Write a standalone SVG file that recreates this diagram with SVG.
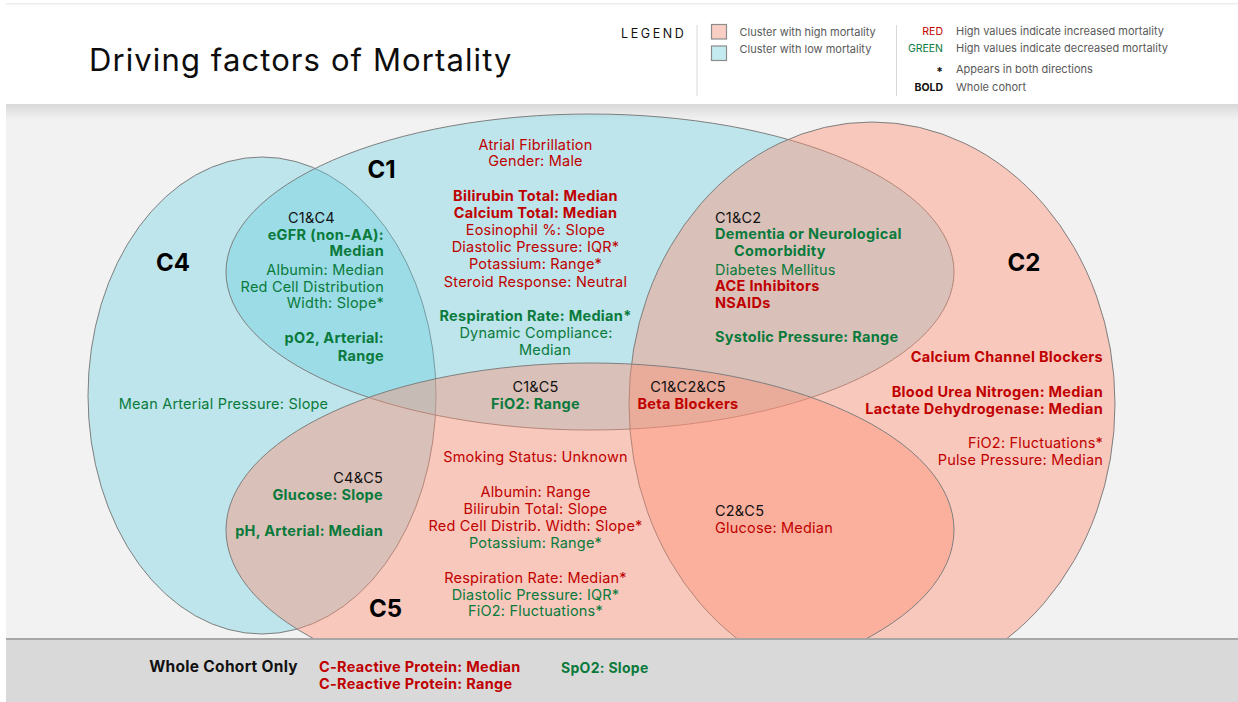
<svg xmlns="http://www.w3.org/2000/svg" width="1238" height="702" viewBox="0 0 1238 702">
<defs>
<linearGradient id="shadow" x1="0" y1="0" x2="0" y2="1">
<stop offset="0" stop-color="#d9d9d9"/>
<stop offset="1" stop-color="#f2f2f2"/>
</linearGradient>
<style>
text{font-family:Inter,"Open Sans",sans-serif;font-size:14.5px;letter-spacing:0.2px}
.b{font-weight:700;letter-spacing:0.3px}
.r{fill:#c00000}
.g{fill:#0a7a3c}
.k{fill:#111}
.m{text-anchor:middle}
.e{text-anchor:end}
.lab{font-size:24px;font-weight:700;fill:#000;text-anchor:middle;letter-spacing:0}
.blue{fill:#63cfdf;fill-opacity:0.37;stroke:#7f7f7f;stroke-width:1}
.pink{fill:#fe9074;fill-opacity:0.43;stroke:#7f7f7f;stroke-width:1}
.lg{font-size:11px;fill:#595959;letter-spacing:0}
.lk{font-size:10.5px;text-anchor:end;letter-spacing:0}
</style>
</defs>
<rect x="0" y="0" width="1238" height="702" fill="#ffffff"/>
<rect x="6" y="3" width="1232" height="1.5" fill="#ececec"/>
<rect x="6" y="104" width="1232" height="534" fill="#f2f2f2"/>
<rect x="6" y="104" width="1232" height="16" fill="url(#shadow)"/>

<g id="title">
<text x="89" y="71" style="font-size:31px;fill:#0d0d0d;letter-spacing:1.1px">Driving factors of Mortality</text>
</g>

<g id="legend">
<text x="621" y="38.3" style="font-size:12.5px;letter-spacing:2.6px;fill:#111">LEGEND</text>
<line x1="697" y1="25" x2="697" y2="96" stroke="#d9d9d9" stroke-width="1"/>
<line x1="896.5" y1="25" x2="896.5" y2="96" stroke="#d9d9d9" stroke-width="1"/>
<rect x="711.5" y="24.5" width="15" height="14.5" fill="#f9cfc5" stroke="#8c8c8c" stroke-width="1.2"/>
<rect x="711.5" y="46" width="15" height="14.5" fill="#c4ebf0" stroke="#8c8c8c" stroke-width="1.2"/>
<text class="lg" x="739.5" y="35.7">Cluster with high mortality</text>
<text class="lg" x="739.5" y="52.7">Cluster with low mortality</text>
<text class="lk r" x="943" y="35">RED</text>
<text class="lk g" x="943" y="52.3">GREEN</text>
<text class="lk k" x="943" y="76" style="font-size:12px;font-weight:700">*</text>
<text class="lk k" x="943" y="91" style="font-weight:700">BOLD</text>
<text class="lg" x="956" y="35">High values indicate increased mortality</text>
<text class="lg" x="956" y="52.3">High values indicate decreased mortality</text>
<text class="lg" x="956" y="73.3">Appears in both directions</text>
<text class="lg" x="956" y="91">Whole cohort</text>
</g>

<g id="sets">
<g id="C4"><ellipse class="blue" cx="262" cy="395.5" rx="174" ry="238.5"/></g>
<g id="C1"><ellipse class="blue" cx="590" cy="272" rx="364" ry="158"/></g>
<g id="C2"><ellipse class="pink" cx="872" cy="404" rx="243" ry="282"/></g>
<g id="C5"><ellipse class="pink" cx="590" cy="530" rx="364" ry="167"/></g>
</g>

<g id="connectors"/>

<g id="bottom-band">
<rect x="6" y="638" width="1232" height="64" fill="#d9d9d9"/>
<rect x="6" y="638" width="1232" height="2" fill="#a6a6a6"/>
</g>

<g id="labels">
<text class="lab" x="381.5" y="178">C1</text>
<text class="lab" x="173" y="271">C4</text>
<text class="lab" x="1024" y="271">C2</text>
<text class="lab" x="385.5" y="617">C5</text>
</g>

<g id="C1-only">
<text class="m r" x="535.5" y="149.5">Atrial Fibrillation</text>
<text class="m r" x="535.5" y="166">Gender: Male</text>
<text class="m r b" x="535.5" y="201">Bilirubin Total: Median</text>
<text class="m r b" x="535.5" y="218">Calcium Total: Median</text>
<text class="m r" x="535.5" y="235">Eosinophil %: Slope</text>
<text class="m r" x="535.5" y="252">Diastolic Pressure: IQR*</text>
<text class="m r" x="535.5" y="269">Potassium: Range*</text>
<text class="m r" x="535.5" y="286.5">Steroid Response: Neutral</text>
<text class="m g b" x="535.5" y="321">Respiration Rate: Median*</text>
<text class="m g" x="536" y="338">Dynamic Compliance:</text>
<text class="m g" x="545" y="355">Median</text>
</g>

<g id="C1C4">
<text class="k" x="288" y="223">C1&amp;C4</text>
<text class="e g b" x="384" y="239.5">eGFR (non-AA):</text>
<text class="e g b" x="384" y="256">Median</text>
<text class="e g" x="384" y="275">Albumin: Median</text>
<text class="e g" x="384" y="291.5">Red Cell Distribution</text>
<text class="e g" x="384" y="308">Width: Slope*</text>
<text class="e g b" x="384" y="342.5">pO2, Arterial:</text>
<text class="e g b" x="384" y="361">Range</text>
</g>

<g id="C1C2">
<text class="k" x="715" y="223">C1&amp;C2</text>
<text class="g b" x="715" y="239">Dementia or Neurological</text>
<text class="g b" x="734" y="256">Comorbidity</text>
<text class="g" x="715" y="274.5">Diabetes Mellitus</text>
<text class="r b" x="715" y="291">ACE Inhibitors</text>
<text class="r b" x="715" y="307.5">NSAIDs</text>
<text class="g b" x="715" y="342">Systolic Pressure: Range</text>
</g>

<g id="C2-only">
<text class="e r b" x="1103" y="362">Calcium Channel Blockers</text>
<text class="e r b" x="1103" y="397">Blood Urea Nitrogen: Median</text>
<text class="e r b" x="1103" y="413.5">Lactate Dehydrogenase: Median</text>
<text class="e r" x="1103" y="448">FiO2: Fluctuations*</text>
<text class="e r" x="1103" y="464.5">Pulse Pressure: Median</text>
</g>

<g id="C1C5">
<text class="m k" x="535.5" y="392">C1&amp;C5</text>
<text class="m g b" x="535.5" y="409">FiO2: Range</text>
</g>

<g id="C1C2C5">
<text class="m k" x="688" y="392">C1&amp;C2&amp;C5</text>
<text class="m r b" x="688" y="409">Beta Blockers</text>
</g>

<g id="C4-only">
<text class="m g" x="223.5" y="409">Mean Arterial Pressure: Slope</text>
</g>

<g id="C4C5">
<text class="e k" x="383" y="483">C4&amp;C5</text>
<text class="e g b" x="383" y="500">Glucose: Slope</text>
<text class="e g b" x="383" y="536">pH, Arterial: Median</text>
</g>

<g id="C5-only">
<text class="m r" x="535.5" y="462">Smoking Status: Unknown</text>
<text class="m r" x="535.5" y="497">Albumin: Range</text>
<text class="m r" x="535.5" y="513.5">Bilirubin Total: Slope</text>
<text class="m r" x="535.5" y="530.5">Red Cell Distrib. Width: Slope*</text>
<text class="m g" x="535.5" y="547.5">Potassium: Range*</text>
<text class="m r" x="535.5" y="583">Respiration Rate: Median*</text>
<text class="m g" x="535.5" y="599.5">Diastolic Pressure: IQR*</text>
<text class="m g" x="535.5" y="616">FiO2: Fluctuations*</text>
</g>

<g id="C2C5">
<text class="k" x="715" y="516">C2&amp;C5</text>
<text class="r" x="715" y="532.5">Glucose: Median</text>
</g>

<g id="whole-cohort">
<text class="e b k" x="298" y="672" style="font-size:15.5px">Whole Cohort Only</text>
<text class="r b" x="319" y="672" style="font-size:14.5px">C-Reactive Protein: Median</text>
<text class="r b" x="319" y="689" style="font-size:14.5px">C-Reactive Protein: Range</text>
<text class="g b" x="561" y="673" style="font-size:14px">SpO2: Slope</text>
</g>
</svg>
